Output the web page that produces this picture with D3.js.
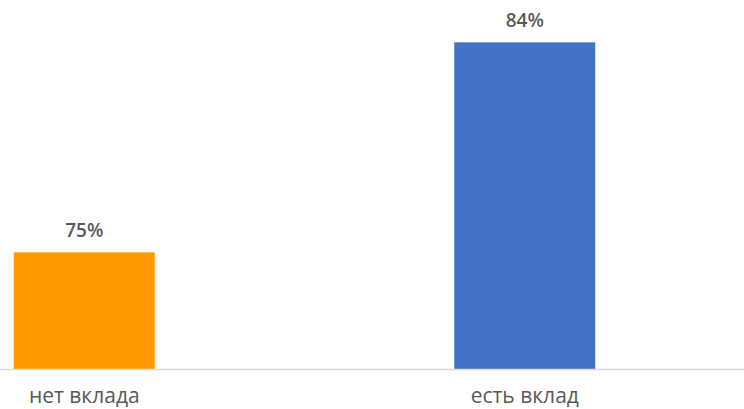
<!DOCTYPE html>
<html>
<head>
<meta charset="utf-8">
<script src="https://cdn.jsdelivr.net/npm/d3@7"></script>
<style>
  html, body { margin: 0; padding: 0; background: #fff; }
  svg { display: block; }
</style>
</head>
<body>
<svg id="chart" width="744" height="409"></svg>
<script>
// Share of respondents, by whether they hold a bank deposit
const categories = ["нет вклада", "есть вклад"];
const values = [75, 84];
const colors = ["#FF9900", "#4472C4"];

const svg = d3.select("#chart");
const W = 744, H = 409;

const x = d3.scaleBand()
  .domain(categories)
  .range([-136, 745])
  .paddingInner(0.68)
  .paddingOuter(0.34);

const y = d3.scaleLinear()
  .domain([70, 85])
  .range([369, 19]);

// bars
svg.selectAll("rect.bar")
  .data(categories)
  .join("rect")
  .attr("class", "bar")
  .attr("x", d => x(d))
  .attr("width", x.bandwidth())
  .attr("y", (d, i) => y(values[i]))
  .attr("height", (d, i) => y(70) - y(values[i]))
  .attr("fill", (d, i) => colors[i]);

// baseline axis
const axis = d3.axisBottom(x).tickSize(0).tickPadding(0);
const gx = svg.append("g").attr("transform", `translate(0,${y(70)})`).call(axis);
gx.select(".domain").remove();
gx.append("line")
  .attr("x1", 0).attr("x2", W)
  .attr("y1", 0.5).attr("y2", 0.5)
  .attr("stroke", "#d9d9d9")
  .attr("stroke-width", 1.5);
gx.selectAll(".tick text")
  .attr("dy", null)
  .attr("y", 34)
  .attr("fill", "#595959")
  .style("font-family", "'Open Sans', sans-serif")
  .style("font-size", "21px")
  .style("font-weight", "500");

// value labels
svg.selectAll("text.val")
  .data(categories)
  .join("text")
  .attr("class", "val")
  .attr("x", d => x(d) + x.bandwidth() / 2)
  .attr("y", (d, i) => y(values[i]) - 15)
  .attr("text-anchor", "middle")
  .attr("fill", "#595959")
  .style("font-family", "'Open Sans', sans-serif")
  .style("font-size", "19px")
  .style("font-weight", "600")
  .text((d, i) => values[i] + "%");
</script>
</body>
</html>
